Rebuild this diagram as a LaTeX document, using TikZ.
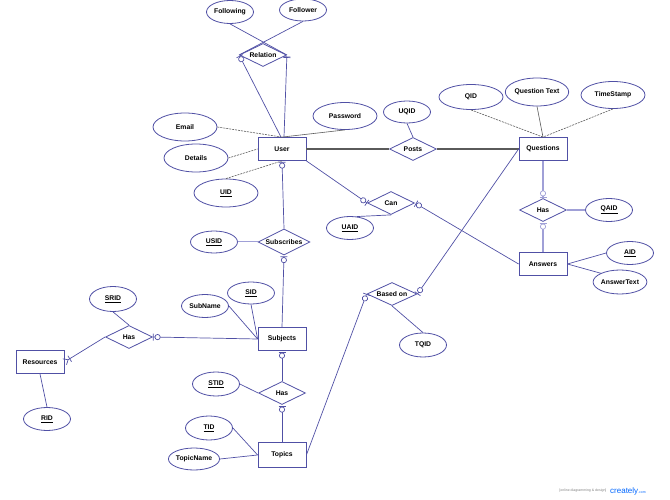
\documentclass[tikz,border=0pt]{standalone}
\usepackage{fontspec}
\setmainfont{Liberation Sans}
\usetikzlibrary{shapes.geometric,arrows.meta}

\definecolor{erblue}{RGB}{80,80,165}
\definecolor{erlight}{RGB}{160,160,215}
\definecolor{ergray}{RGB}{90,90,90}

\begin{document}
\begin{tikzpicture}[x=1pt, y=-1pt,
    entity/.style={rectangle, draw=erblue, fill=white, line width=0.8pt, minimum width=48pt, minimum height=23pt, inner sep=0pt, font=\bfseries\fontsize{6.8}{8}\selectfont},
    attr/.style={ellipse, draw=erblue, fill=white, line width=0.8pt, minimum width=47pt, minimum height=23pt, inner sep=0pt, font=\bfseries\fontsize{6.8}{8}\selectfont},
    wide/.style={minimum width=64pt, minimum height=28pt},
    rel/.style={diamond, draw=erblue, fill=white, line width=0.8pt, aspect=2, minimum width=47pt, minimum height=23pt, inner sep=0pt, font=\bfseries\fontsize{6.8}{8}\selectfont},
    link/.style={draw=erblue, line width=0.7pt},
    thicklink/.style={draw=erlight, line width=1.6pt},
    dline/.style={draw=ergray, line width=0.6pt, dashed, dash pattern=on 2pt off 1pt},
    gline/.style={draw=ergray, line width=0.6pt},
    zo/.style={-{Circle[open,length=6pt,width=6pt,line width=0.7pt,fill=white,sep=1pt] Bar[width=7pt,line width=0.7pt]}},
    oz/.style={{Bar[width=7pt,line width=0.7pt,sep=1pt] Circle[open,length=6pt,width=6pt,line width=0.7pt,fill=white]}-},
    oneone/.style={{Bar[width=7pt,sep=1.5pt] Bar[width=7pt]}-},
    crow/.style={-{Bar[width=7pt,sep=1pt] Straight Barb[reversed,length=4pt,width=7pt]}}
]
    \useasboundingbox (0,0) rectangle (670,500);

    % entities
    \node[entity] (user) at (282,149) {User};
    \node[entity] (questions) at (543,149) {Questions};
    \node[entity] (answers) at (543,264) {Answers};
    \node[entity] (subjects) at (282,339) {Subjects};
    \node[entity] (resources) at (40,362) {Resources};
    \node[entity, minimum height=25pt] (topics) at (282,455) {Topics};

    % relationships
    \node[rel] (relation) at (263,55) {Relation};
    \node[rel] (posts) at (413,149) {Posts};
    \node[rel] (can) at (391,203) {Can};
    \node[rel] (hasqa) at (543,210) {Has};
    \node[rel, minimum width=52pt, minimum height=26pt] (subscribes) at (284,242) {Subscribes};
    \node[rel, minimum width=50pt] (basedon) at (392,294) {Based on};
    \node[rel] (hassr) at (129,337) {Has};
    \node[rel] (hasst) at (282,393) {Has};

    % attributes
    \node[attr] (following) at (230,12) {Following};
    \node[attr, minimum height=22pt] (follower) at (303,10) {Follower};
    \node[attr, wide] (email) at (185,127) {Email};
    \node[attr, wide, minimum height=27pt] (password) at (345,116) {Password};
    \node[attr, wide] (details) at (196,158) {Details};
    \node[attr, wide] (uid) at (226,193) {\underline{UID}};
    \node[attr, minimum height=22pt] (uqid) at (407,112) {UQID};
    \node[attr, wide, minimum height=25pt] (qid) at (471,97) {QID};
    \node[attr, minimum width=56pt, minimum height=28pt] (qtext) at (537,92) {Question Text};
    \node[attr, wide, minimum height=27pt] (tstamp) at (613,95) {TimeStamp};
    \node[attr] (uaid) at (350,228) {\underline{UAID}};
    \node[attr] (qaid) at (609,210) {\underline{QAID}};
    \node[attr] (aid) at (630,253) {\underline{AID}};
    \node[attr, minimum width=50pt, minimum height=24pt] (atext) at (620,282) {AnswerText};
    \node[attr, minimum height=22pt] (usid) at (214,242) {\underline{USID}};
    \node[attr, minimum height=24pt] (tqid) at (423,345) {TQID};
    \node[attr, minimum height=25pt] (srid) at (113,299) {\underline{SRID}};
    \node[attr] (subname) at (205,306) {SubName};
    \node[attr, minimum height=22pt] (sid) at (251,293) {\underline{SID}};
    \node[attr] (rid) at (47,419) {\underline{RID}};
    \node[attr, minimum height=24pt] (stid) at (216,384) {\underline{STID}};
    \node[attr, minimum height=24pt] (tid) at (209,428) {\underline{TID}};
    \node[attr, minimum width=46pt, minimum height=22pt] (tname) at (194,459) {TopicName};

    % user relations
    \draw[link] (following.south) -- (relation.east);
    \draw[link] (follower.south) -- (relation.west);
    \draw[link, oz] (relation.west) -- ([xshift=-1pt]user.north);
    \draw[link, oneone] (relation.east) -- ([xshift=2pt]user.north);
    \draw[dline] (email.east) -- (user.north);
    \draw[gline] (password.south) -- (user.north);
    \draw[dline] (details.east) -- (user.west);
    \draw[dline] (uid.north) -- (user.south);

    % posts
    \draw[gline, line width=1.1pt] (user.east) -- (posts.west);
    \draw[gline, line width=1.1pt] (posts.east) -- (questions.west);
    \draw[link] (uqid.south) -- (posts.north);

    % questions and answers
    \draw[dline] (qid.south) -- (questions.north);
    \draw[gline] (qtext.south) -- (questions.north);
    \draw[dline] (tstamp.south) -- (questions.north);
    \draw[thicklink, zo] (questions.south) -- (hasqa.north);
    \draw[thicklink, oz] (hasqa.south) -- (answers.north);
    \draw[thicklink] (hasqa.east) -- (qaid.west);
    \draw[link] (answers.east) -- (aid.west);
    \draw[link] (answers.east) -- (atext.north west);

    % can
    \draw[link, zo] (user.south east) -- (can.west);
    \draw[link, oz] (can.east) -- (answers.west);
    \draw[link] (can.south) -- (uaid.60);

    % based on
    \draw[link, zo] (questions.west) -- (basedon.east);
    \draw[link, zo] (topics.east) -- (basedon.west);
    \draw[link] (basedon.south) -- (tqid.north);

    % subscribes
    \draw[link, oz] (user.south) -- (subscribes.north);
    \draw[link, oz] (subscribes.south) -- (subjects.north);
    \draw[thicklink, line width=1pt] (usid.east) -- (subscribes.west);

    % subjects and resources
    \draw[link] (subname.east) -- (subjects.west);
    \draw[link] (sid.south) -- (subjects.west);
    \draw[link, zo] (subjects.west) -- (hassr.east);
    \draw[link, crow] (hassr.west) -- (resources.east);
    \draw[link] (srid.south) -- (hassr.north);
    \draw[link] (resources.south) -- (rid.north);

    % subjects and topics
    \draw[link, oz] (subjects.south) -- (hasst.north);
    \draw[link, oz] (hasst.south) -- (topics.north);
    \draw[link] (stid.east) -- (hasst.west);
    \draw[link] (tid.east) -- (topics.west);
    \draw[link] (tname.east) -- (topics.west);

    \node[font=\fontsize{3.5}{4}\selectfont, text=gray, anchor=east] (mark) at (610,491) {[online diagramming \& design]};
    \node[font=\fontsize{8}{9}\selectfont, text=blue!60!cyan, anchor=west, inner sep=0pt] (brand) at (mark.east) {creately\fontsize{3.5}{4}\selectfont.com};
\end{tikzpicture}
\end{document}
